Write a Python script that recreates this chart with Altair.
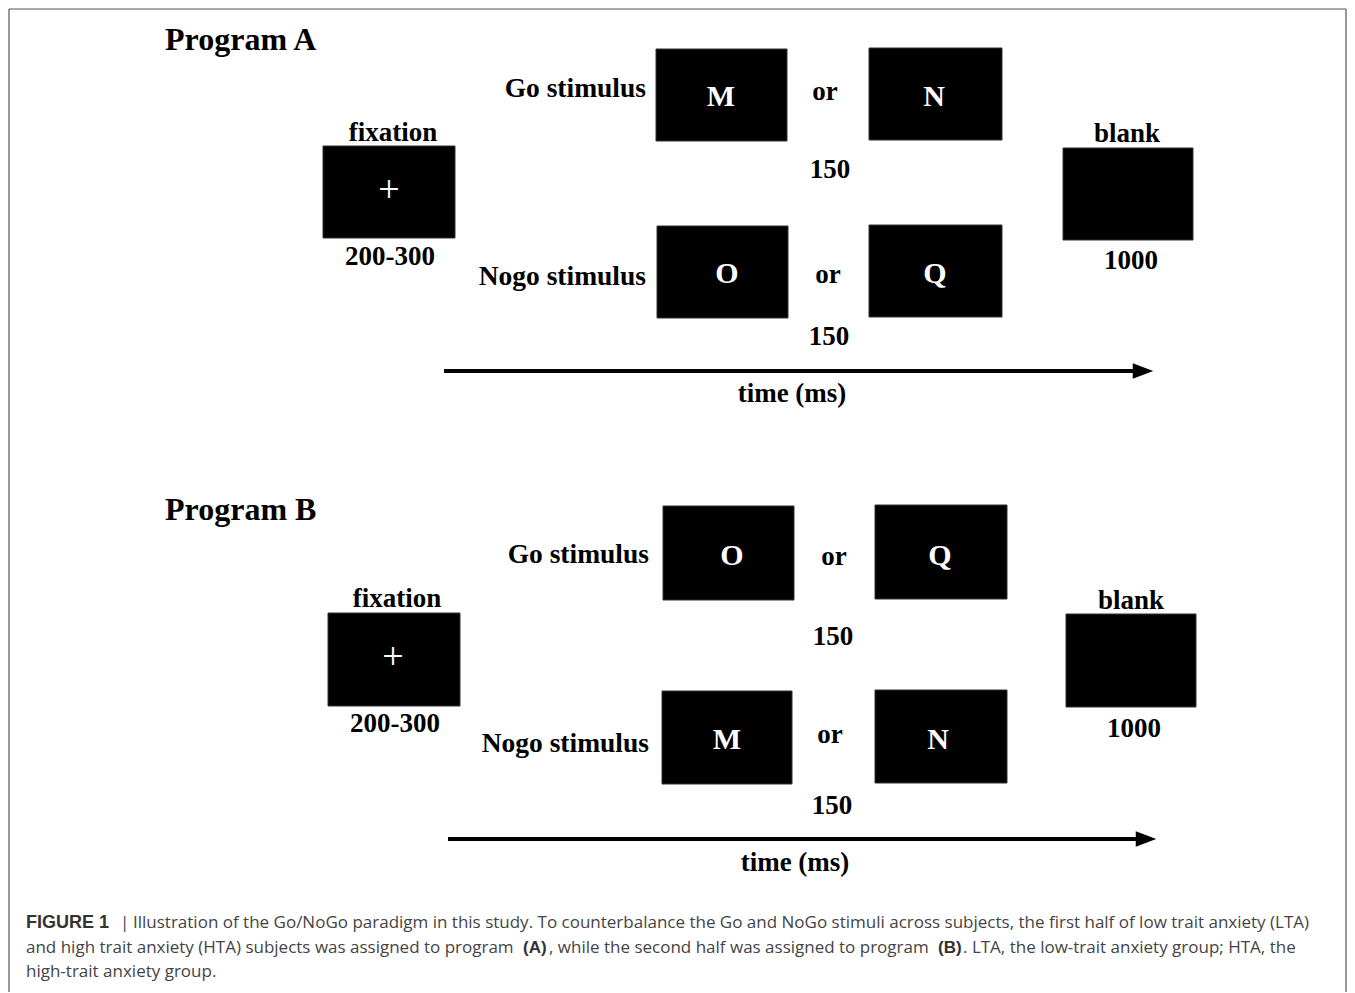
import altair as alt
import pandas as pd

W, H = 1339, 984
XD = [8, 8 + W]
YD = [8, 8 + H]

SERIF = "Liberation Serif"
SANS = "Open Sans"
SANS_B = "Liberation Sans"

# ---- stimulus boxes (figure units) ----
box_left = [323, 656, 869, 1063, 657, 869, 328, 663, 875, 1066, 662, 875]
box_right = [455, 787, 1002, 1193, 788, 1002, 460, 794, 1007, 1196, 792, 1007]
box_top = [146, 49, 48, 148, 226, 225, 613, 506, 505, 614, 691, 690]
box_bottom = [238, 141, 140, 240, 318, 317, 706, 600, 599, 707, 784, 783]

# ---- centred bold labels ----
lab_text = ["fixation", "200-300", "blank", "1000", "or", "or", "150", "150", "time (ms)",
            "fixation", "200-300", "blank", "1000", "or", "or", "150", "150", "time (ms)"]
lab_x = [393, 390, 1127, 1131, 825, 828, 830, 829, 792,
         397, 395, 1131, 1134, 834, 830, 833, 832, 795]
lab_y = [141, 265, 142, 269, 100, 283, 178, 345, 402,
         607, 732, 609, 737, 565, 743, 645, 814, 871]

# ---- letters inside boxes ----
let_text = ["M", "N", "O", "Q", "O", "Q", "M", "N"]
let_x = [721, 934, 727, 935, 732, 940, 727, 938]
let_y = [106, 106, 283, 283, 565, 565, 749, 749]

# ---- fixation crosses ----
plus_x = [389, 393]
plus_y = [202, 669]

# ---- stimulus type labels (right aligned) ----
stim_text = ["Go stimulus", "Nogo stimulus", "Go stimulus", "Nogo stimulus"]
stim_x = [646, 646, 649, 649]
stim_y = [97, 285, 563, 752]

# ---- program titles ----
prog_text = ["Program A", "Program B"]
prog_x = [165, 165]
prog_y = [50, 520]

# ---- time arrows ----
arrow_x1 = [444, 448]
arrow_x2 = [1137, 1140]
arrow_y = [371, 839]
head_x = [1143, 1146]

# ---- caption ----
cap_text = ["FIGURE 1", "|",
            "Illustration of the Go/NoGo paradigm in this study. To counterbalance the Go and NoGo stimuli across subjects, the first half of low trait anxiety (LTA)",
            "and high trait anxiety (HTA) subjects was assigned to program", "(A)",
            ", while the second half was assigned to program", "(B)",
            ". LTA, the low-trait anxiety group; HTA, the",
            "high-trait anxiety group."]
cap_x = [26, 120, 133, 26, 523, 549, 938, 963, 26]
cap_y = [928, 928, 928, 953, 953, 953, 953, 953, 977]
cap_bold = [True, False, False, False, True, False, True, False, False]
cap_size = [18, 17, 17, 17, 17, 17, 17, 17, 17]

xs = alt.Scale(domain=XD, nice=False, zero=False)
ys = alt.Scale(domain=YD, nice=False, zero=False, reverse=True)


def X(f="x"):
    return alt.X(f + ":Q", scale=xs, axis=None)


def Y(f="y"):
    return alt.Y(f + ":Q", scale=ys, axis=None)


boxes = pd.DataFrame({"x": box_left, "x2": box_right, "y": box_top, "y2": box_bottom})
box_layer = alt.Chart(boxes).mark_rect(color="black", stroke="#333", strokeWidth=1).encode(
    x=X(), x2="x2:Q", y=Y(), y2="y2:Q")

labels = pd.DataFrame({"t": lab_text, "x": lab_x, "y": lab_y})
lab_layer = alt.Chart(labels).mark_text(font=SERIF, fontWeight="bold", fontSize=27,
                                        align="center", baseline="alphabetic", color="black").encode(
    x=X(), y=Y(), text="t:N")

letters = pd.DataFrame({"t": let_text, "x": let_x, "y": let_y})
let_layer = alt.Chart(letters).mark_text(font=SERIF, fontWeight="bold", fontSize=30,
                                         align="center", baseline="alphabetic", color="white").encode(
    x=X(), y=Y(), text="t:N")

plus = pd.DataFrame({"t": ["+", "+"], "x": plus_x, "y": plus_y})
plus_layer = alt.Chart(plus).mark_text(font=SERIF, fontSize=38, align="center",
                                       baseline="alphabetic", color="white").encode(
    x=X(), y=Y(), text="t:N")

stim = pd.DataFrame({"t": stim_text, "x": stim_x, "y": stim_y})
stim_layer = alt.Chart(stim).mark_text(font=SERIF, fontWeight="bold", fontSize=27.5,
                                       align="right", baseline="alphabetic", color="black").encode(
    x=X(), y=Y(), text="t:N")

prog = pd.DataFrame({"t": prog_text, "x": prog_x, "y": prog_y})
prog_layer = alt.Chart(prog).mark_text(font=SERIF, fontWeight="bold", fontSize=32,
                                       align="left", baseline="alphabetic", color="black").encode(
    x=X(), y=Y(), text="t:N")

arrows = pd.DataFrame({"x": arrow_x1, "x2": arrow_x2, "y": arrow_y, "hx": head_x})
arrow_layer = alt.Chart(arrows).mark_rule(color="black", strokeWidth=4).encode(
    x=X(), x2="x2:Q", y=Y())
head_layer = alt.Chart(arrows).mark_point(
    shape="M-1,-0.75L1,0L-1,0.75Z", size=420, filled=True, color="black", opacity=1,
    strokeWidth=0).encode(x=X("hx"), y=Y())

cap = pd.DataFrame({"t": cap_text, "x": cap_x, "y": cap_y, "b": cap_bold, "s": cap_size})
cap_norm = alt.Chart(cap[~cap.b]).mark_text(font=SANS, align="left",
                                            baseline="alphabetic", color="#444444").encode(
    x=X(), y=Y(), text="t:N", size=alt.Size("s:Q", scale=None))
cap_bold_layer = alt.Chart(cap[cap.b]).mark_text(font=SANS_B, fontWeight="bold",
                                                 align="left", baseline="alphabetic",
                                                 color="#333333").encode(
    x=X(), y=Y(), text="t:N", size=alt.Size("s:Q", scale=None))

frame = pd.DataFrame({"x": [9, 9, 1346], "x2": [9, 1346, 1346], "y": [9, 9, 9],
                      "y2": [992, 9, 992]})
frame_layer = alt.Chart(frame).mark_rule(color="#555555", strokeWidth=1.2).encode(
    x=X(), x2="x2:Q", y=Y(), y2="y2:Q")

chart = alt.layer(frame_layer, box_layer, lab_layer, let_layer, plus_layer, stim_layer,
                  prog_layer, arrow_layer, head_layer, cap_norm, cap_bold_layer).properties(
    width=W, height=H, autosize=alt.AutoSizeParams(type="none"), padding=0,
    background="white").configure_view(stroke=None)

chart.save("out.html", embed_options={"renderer": "svg", "actions": False})
